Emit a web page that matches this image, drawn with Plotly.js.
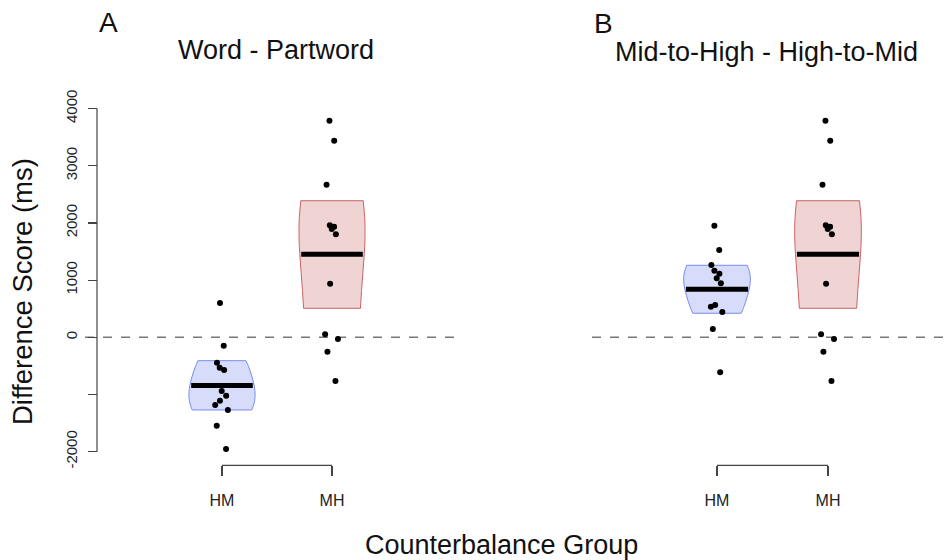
<!DOCTYPE html>
<html>
<head>
<meta charset="utf-8">
<script src="https://cdn.plot.ly/plotly-3.0.1.min.js"></script>
<style>html,body{margin:0;padding:0;background:#fff;}#chart{width:950px;height:560px;}</style>
</head>
<body>
<div id="chart"></div>
<script>
// ---- data ----
var groups = ['HM', 'MH'];
var groupPos = [1, 2];
var yTicks = [-2000, -1000, 0, 1000, 2000, 3000, 4000];
var yTickText = ['-2000', '', '0', '1000', '2000', '3000', '4000'];

var panelTitles = ['Word - Partword', 'Mid-to-High - High-to-Mid'];
var panelLetters = ['A', 'B'];

// Panel A: Word - Partword
var wordHM = [600, -147, -444, -531, -572, -939, -1021, -1108, -1183, -1271, -1545, -1953];
var wordMH = [3787, 3437, 2668, 1958, 1934, 1893, 1801, 937, 52, -30, -252, -764];
var wordCiLow = [-1271, 507];
var wordCiHigh = [-409, 2388];

// Panel B: Mid-to-High - High-to-Mid
var pitchHM = [1951, 1526, 1264, 1164, 1110, 1031, 944, 565, 535, 442, 145, -612];
var pitchMH = [3787, 3437, 2668, 1958, 1934, 1893, 1801, 937, 52, -30, -252, -764];
var pitchCiLow = [420, 507];
var pitchCiHigh = [1259, 2388];

// ---- styling ----
var fills = ['rgba(120,140,240,0.30)', 'rgba(200,100,100,0.28)'];
var lines = ['rgb(120,140,240)', 'rgb(200,100,100)'];
var FONT = 'Liberation Sans, Arial, sans-serif';
var MEAN_HALF = 0.28;

function repeat(v, n) { var a = []; for (var i = 0; i < n; i++) a.push(v); return a; }
function mean(a) { var s = 0; a.forEach(function (v) { s += v; }); return s / a.length; }

var panels = [
  {series: [wordHM, wordMH], lo: wordCiLow, hi: wordCiHigh, xa: 'x'},
  {series: [pitchHM, pitchMH], lo: pitchCiLow, hi: pitchCiHigh, xa: 'x2'}
];

var traces = [];
panels.forEach(function (p) {
  p.series.forEach(function (vals, gi) {
    traces.push({
      type: 'violin',
      x: repeat(groupPos[gi], vals.length),
      y: vals,
      xaxis: p.xa,
      yaxis: 'y',
      width: 0.6,
      spanmode: 'manual',
      span: [p.lo[gi], p.hi[gi]],
      scalemode: 'width',
      fillcolor: fills[gi],
      line: {color: lines[gi], width: 1},
      box: {visible: false},
      meanline: {visible: false},
      points: false,
      showlegend: false,
      hoverinfo: 'skip'
    });
  });
  p.series.forEach(function (vals, gi) {
    var m = mean(vals);
    traces.push({
      type: 'scatter', mode: 'lines',
      x: [groupPos[gi] - MEAN_HALF, groupPos[gi] + MEAN_HALF],
      y: [m, m],
      xaxis: p.xa, yaxis: 'y',
      line: {color: '#000', width: 5},
      showlegend: false, hoverinfo: 'skip'
    });
  });
  p.series.forEach(function (vals, gi) {
    traces.push({
      type: 'violin',
      x: repeat(groupPos[gi], vals.length),
      y: vals,
      xaxis: p.xa,
      yaxis: 'y',
      width: 0.6,
      spanmode: 'manual',
      span: [p.lo[gi], p.hi[gi]],
      scalemode: 'width',
      fillcolor: 'rgba(0,0,0,0)',
      line: {color: 'rgba(0,0,0,0)', width: 0},
      box: {visible: false},
      meanline: {visible: false},
      points: 'all',
      jitter: 0.25,
      pointpos: 0,
      marker: {color: '#000', size: 6, line: {width: 0}},
      showlegend: false,
      hoverinfo: 'y'
    });
  });
});

var yDomain = [1 - 465.4 / 560, 1 - 94.8 / 560];
var xDomA = [85 / 950, 457 / 950];
var xDomB = [592 / 950, 1];
var yAxisPos = 97 / 950;

function xaxisDef(dom, range) {
  return {
    domain: dom, range: range, anchor: 'y',
    tickvals: groupPos, ticktext: groups,
    ticks: 'outside', ticklen: 10, tickwidth: 1.2, tickcolor: '#444',
    tickfont: {family: FONT, size: 16, color: '#222'},
    ticklabelstandoff: 10,
    showline: false, zeroline: false, showgrid: false, fixedrange: true
  };
}

var layout = {
  width: 950, height: 560,
  margin: {l: 0, r: 0, t: 0, b: 0},
  paper_bgcolor: '#fff', plot_bgcolor: 'rgba(0,0,0,0)',
  violinmode: 'overlay',
  showlegend: false,
  font: {family: FONT, color: '#222'},
  xaxis: xaxisDef(xDomA, [-0.245, 3.136]),
  xaxis2: xaxisDef(xDomB, [-0.126, 3.099]),
  yaxis: {
    domain: yDomain, range: [-2240, 4240],
    anchor: 'free', position: yAxisPos, side: 'left',
    tickvals: yTicks, ticktext: yTickText,
    ticks: 'outside', ticklen: 9, tickwidth: 1.2, tickcolor: '#444',
    tickangle: -90,
    tickfont: {family: FONT, size: 15, color: '#222'},
    ticklabelstandoff: 5,
    showline: false, zeroline: false, showgrid: false, fixedrange: true
  },
  shapes: [
    {type: 'line', xref: 'paper', yref: 'y', x0: yAxisPos, x1: yAxisPos, y0: yTicks[0], y1: yTicks[yTicks.length - 1], line: {color: '#444', width: 1.2}},
    {type: 'line', xref: 'paper', yref: 'y', x0: xDomA[0], x1: xDomA[1], y0: 0, y1: 0, line: {color: '#777', width: 1.5, dash: 'dash'}, layer: 'below'},
    {type: 'line', xref: 'paper', yref: 'y', x0: xDomB[0], x1: xDomB[1], y0: 0, y1: 0, line: {color: '#777', width: 1.5, dash: 'dash'}, layer: 'below'},
    {type: 'line', xref: 'x', yref: 'paper', x0: groupPos[0], x1: groupPos[1], y0: yDomain[0], y1: yDomain[0], line: {color: '#444', width: 1.2}},
    {type: 'line', xref: 'x2', yref: 'paper', x0: groupPos[0], x1: groupPos[1], y0: yDomain[0], y1: yDomain[0], line: {color: '#444', width: 1.2}}
  ],
  annotations: [
    {text: panelLetters[0], xref: 'paper', yref: 'paper', x: 108 / 950, y: 1 - 23 / 560, xanchor: 'center', yanchor: 'middle', showarrow: false, font: {family: FONT, size: 28, color: '#111'}},
    {text: panelLetters[1], xref: 'paper', yref: 'paper', x: 603 / 950, y: 1 - 24 / 560, xanchor: 'center', yanchor: 'middle', showarrow: false, font: {family: FONT, size: 28, color: '#111'}},
    {text: panelTitles[0], xref: 'paper', yref: 'paper', x: 276 / 950, y: 1 - 50 / 560, xanchor: 'center', yanchor: 'middle', showarrow: false, font: {family: FONT, size: 27, color: '#111'}},
    {text: panelTitles[1], xref: 'paper', yref: 'paper', x: 766 / 950, y: 1 - 52 / 560, xanchor: 'center', yanchor: 'middle', showarrow: false, font: {family: FONT, size: 27, color: '#111'}},
    {text: 'Difference Score (ms)', xref: 'paper', yref: 'paper', x: 22 / 950, y: 1 - 292 / 560, xanchor: 'center', yanchor: 'middle', textangle: -90, showarrow: false, font: {family: FONT, size: 27.5, color: '#111'}},
    {text: 'Counterbalance Group', xref: 'paper', yref: 'paper', x: 501 / 950, y: 1 - 545 / 560, xanchor: 'center', yanchor: 'middle', showarrow: false, font: {family: FONT, size: 27, color: '#111'}}
  ]
};

Plotly.newPlot('chart', traces, layout, {displayModeBar: false, staticPlot: true});
</script>
</body>
</html>
